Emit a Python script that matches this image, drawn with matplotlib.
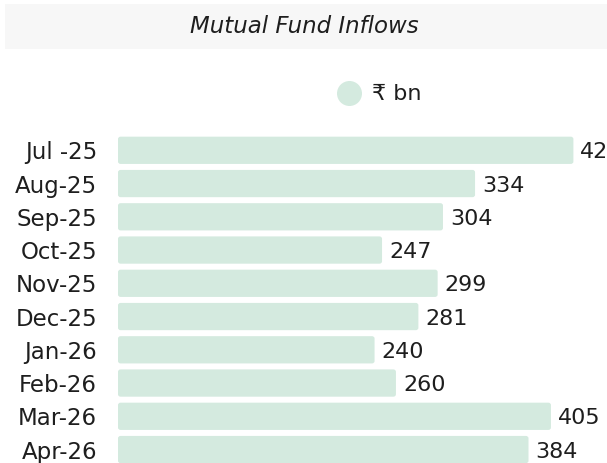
import matplotlib
matplotlib.use("Agg")
import matplotlib.pyplot as plt
from matplotlib.patches import Rectangle, FancyBboxPatch
from matplotlib.lines import Line2D

plt.rcParams['font.family'] = ['DejaVu Sans']

months = ["Jul -25", "Aug-25", "Sep-25", "Oct-25", "Nov-25", "Dec-25",
          "Jan-26", "Feb-26", "Mar-26", "Apr-26"]
values = [426, 334, 304, 247, 299, 281, 240, 260, 405, 384]
title = "Mutual Fund Inflows"
legend_label = "₹ bn"
bar_color = "#d4eadf"
text_color = "#1e1e1e"

W, H = 607, 463
fig = plt.figure(figsize=(W / 100, H / 100), dpi=100)

# title band
fig.patches.append(Rectangle((5 / W, 1 - 49 / H), 1, 45 / H, transform=fig.transFigure,
                             facecolor="#f7f7f7", edgecolor="none", zorder=0))
fig.text(304 / W, 1 - 33 / H, title, ha="center", va="baseline", fontsize=16.5,
         style="italic", color=text_color)

# legend
fig.lines.append(Line2D([349 / W], [1 - 92.5 / H], marker="o", markersize=18,
                        linestyle="none", markeredgewidth=0,
                        color=bar_color, transform=fig.transFigure))
fig.text(372 / W, 1 - 92.5 / H, legend_label, ha="left", va="center_baseline",
         fontsize=16, color=text_color)

pitch = 33.25
top_px = 150.3 - pitch / 2
x0_px = 118
px_per_unit = 1.069
ax = fig.add_axes([x0_px / W, 0, 1 - x0_px / W, 1 - top_px / H])
n = len(values)
ax.set_ylim(-0.5 + (H - top_px) / pitch, -0.5)
ax.set_xlim(0, (W - x0_px) / px_per_unit)

for i, v in enumerate(values):
    ax.add_patch(FancyBboxPatch((0, i - 0.41), v, 0.82,
                                boxstyle="round,pad=0,rounding_size=2.5",
                                mutation_aspect=1 / 35,
                                facecolor=bar_color, edgecolor="none"))
    ax.text(v + 6.5, i, str(v), ha="left", va="center_baseline", fontsize=16,
            color=text_color, clip_on=False)

ax.set_yticks(range(n))
ax.set_yticklabels(months, fontsize=16.5, color=text_color)
ax.tick_params(axis="y", length=0, pad=15)
ax.set_xticks([])
for s in ax.spines.values():
    s.set_visible(False)
ax.patch.set_visible(False)

fig.savefig("out.png", dpi=100)
